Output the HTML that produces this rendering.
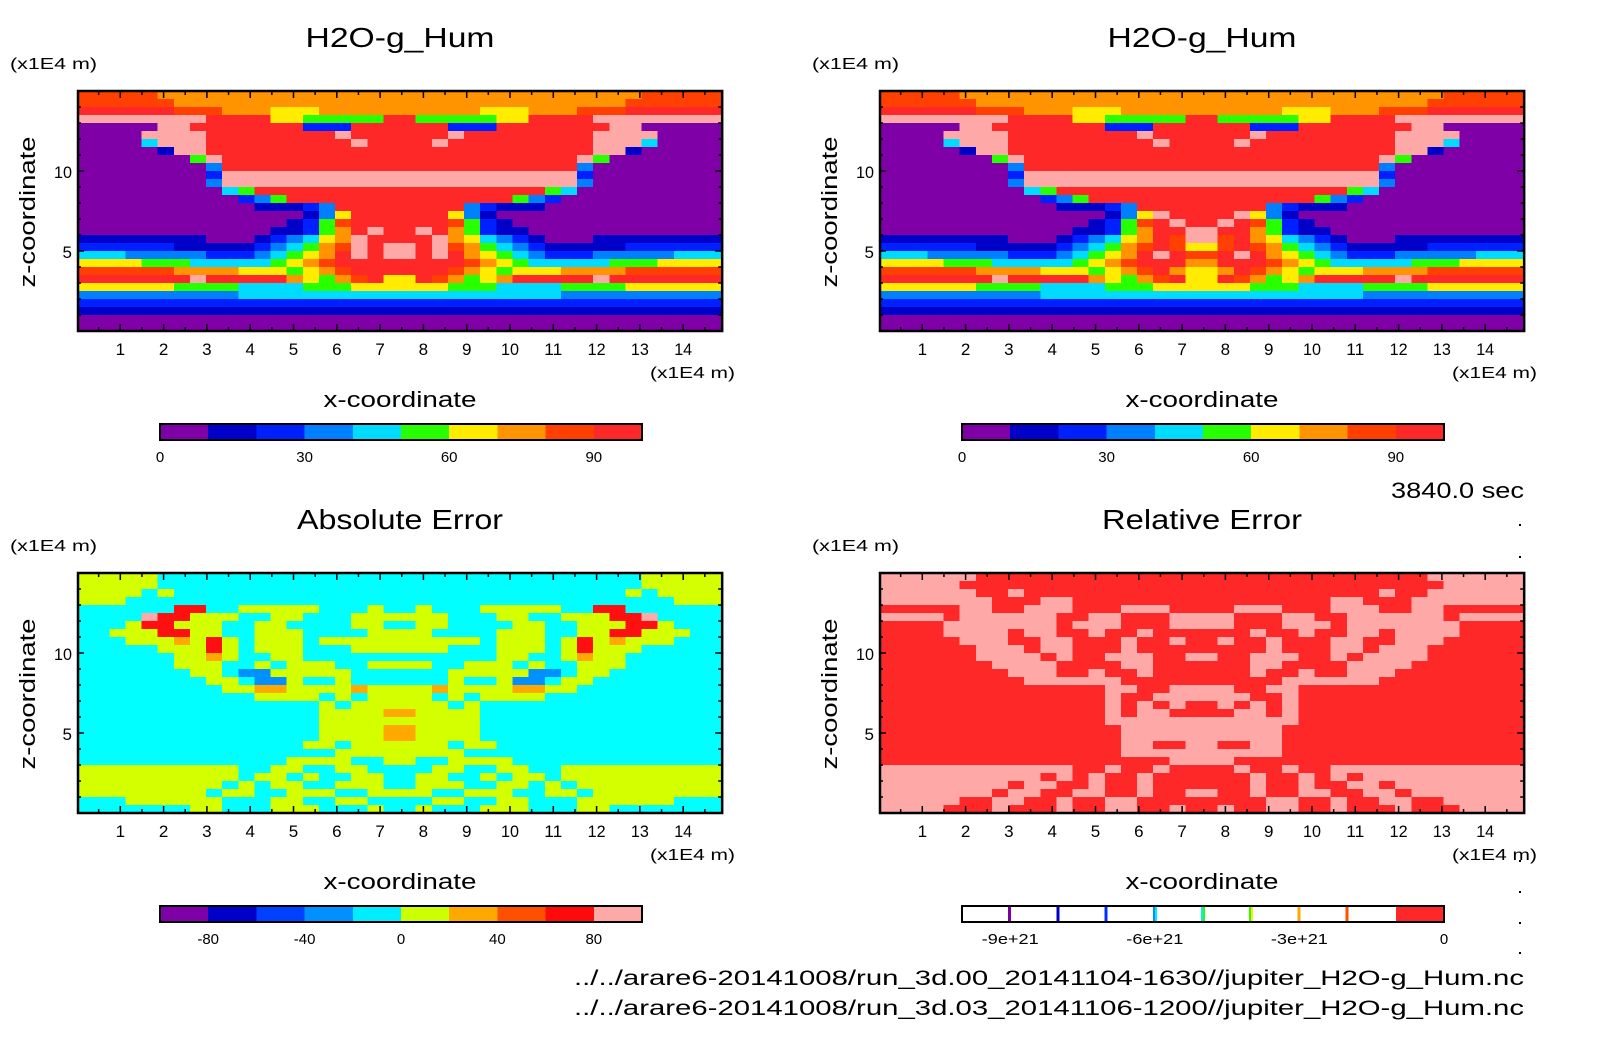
<!DOCTYPE html>
<html><head><meta charset="utf-8">
<style>
html,body{margin:0;padding:0;background:#fff;}
svg{display:block;}
text{font-family:"Liberation Sans",sans-serif;fill:#000;}
</style></head>
<body>
<svg id="fig" xmlns="http://www.w3.org/2000/svg" width="1604" height="1054" viewBox="0 0 1604 1054">
<rect x="0" y="0" width="1604" height="1054" fill="#fff"/>
<g id="layer"></g>
<text x="1524" y="498" text-anchor="end" font-size="22" textLength="133" lengthAdjust="spacingAndGlyphs">3840.0 sec</text>
<text x="1524" y="985" text-anchor="end" font-size="21" textLength="950" lengthAdjust="spacingAndGlyphs">../../arare6-20141008/run_3d.00_20141104-1630//jupiter_H2O-g_Hum.nc</text>
<text x="1524" y="1015" text-anchor="end" font-size="21" textLength="950" lengthAdjust="spacingAndGlyphs">../../arare6-20141008/run_3d.03_20141106-1200//jupiter_H2O-g_Hum.nc</text>
<g>
<rect x="1519" y="524" width="2" height="2" fill="#000"/><rect x="1519" y="556" width="2" height="2" fill="#000"/>
<rect x="1519" y="860" width="2" height="2" fill="#000"/><rect x="1519" y="891" width="2" height="2" fill="#000"/>
<rect x="1519" y="922" width="2" height="2" fill="#000"/><rect x="1519" y="952" width="2" height="2" fill="#000"/>
</g>
</svg>
<script>
// ---- data: left halves of each field row (top row first), level codes ----
const humLevels = ["0","10","20","30","40","50","60","70","80","90"];
const humTicks = ["0","30","60","90"];
const humTickFrac = [0,0.3,0.6,0.9];
const absTicks = ["-80","-40","0","40","80"];
const absTickFrac = [0.1,0.3,0.5,0.7,0.9];
const relTicks = ["-9e+21","-6e+21","-3e+21","0"];
const relTickFrac = [0.1,0.4,0.7,1.0];
const xTicks = [1,2,3,4,5,6,7,8,9,10,11,12,13,14];
const yTicks = [5,10];

const humA = [
"88888777777777777777","88888877777777777777","99999988877766677777","AAAAAAAA999966555559",
"00000AA9999999222999","0000AAAA99999999A999","00004AAA999999999A99","000001AA999999999999",
"00000005A99999999999","000000003999999999999".slice(0,20),"000000002AAAAAAAAAAA","000000003AAAAAAAAAAA",
"00000000045999999999","00000000002359999999","00000000000111239999","00000000000000136999",
"00000000000001258999","000000000000112579A9","11111111000123467A99","22222211111234578A9A",
"44433333222345679A9A","66665554444456789999","88888877776665678999","9999999A999997657896",
"66666655554444555666","33333333334444444444","22222222222222222222","11111111111111111111",
"00000000000000000000","00000000000000000000"];
const humB = [
"88888777777777777777","88888877777777777777","99999988877766677777","AAAAAAAA999966555559",
"00000AA9999999222999","0000AAAA99999999A999","00004AAA999999999A99","000001AA999999999999",
"00000005A99999999999","00000000399999999999","000000002AAAAAAAAAAA","000000003AAAAAAAAAAA",
"00000000045999999999","00000000002359999999","00000000000111239999","00000000000000136A99",
"000000000000012589A9","0000000000001125799A","1111111100012346798A","22222211111234578986",
"44433333222345679A98","66665554444456789997","88888877776665678976","9999999A999997657896",
"66666655554444555666","33333333334444444444","22222222222222222222","11111111111111111111",
"00000000000000000000","00000000000000000000"];
const absField = [
"yyyyyccccccccccccccc","yyyyyccccccccccccccc","yyyycycccccccccccccc","yyyccccccccccccccccc",
"ccccccrrccyyyyycccyc","ccccprryyyccyycccyyy","cccyrryyyccyyccccyyc","ccyyyrryyccyyyccccyy",
"cccyyyoyrycyyycyyyyy","cccccyyyrycyyycccyyy","ccccccyyoyccyycccccc","ccccccyyyccycyyyccyy",
"cccccccyycbbyyyyyccc","ccccccccyycbbyccyccc","cccccccccyyooyyyyoyy","cccccccccccyyyycycyy",
"cccccccccccccccycyyy","cccccccccccccccyyyyo","cccccccccccccccyyyyy","cccccccccccccccyyyyo",
"cccccccccccccccyyyyo","ccccccccccccccyycyyy","ccccccccccccccccyyyy","cccccccccccccyyyyccy",
"yyyyyyyyyyccyyccyycc","yyyyyyyyyycyycyccyyc","yyyyyyyyycycyyccyyyc","yyyyyyyycyyccyyyccyy",
"cccyyyyyycccyyccyycc","cccccccyycccyyycccyc"];
const relField = [
"PPPPPPRRRRRRRRRRRRRR","PPPPPRRRRRRRRRRRRRRR","PPPPPPRRPRRRRRRRRRRR","PPPPPPPRRRPPRRRRRRRR",
"RRRRRPPRRPPPRRRPPPRR","PPPPRPPPPPPRRPPRRRPP","RRRRPPPPPPPRPPPRRRPP","RRRRPPPPRPPRRPRRPRRR",
"RRRRRPPPRRPPRRRPRRPR","RRRRRRPPPRPPRRRPRRRR","RRRRRRPPPPRPRRPPPRRP","RRRRRRRPPPPRRRRPPRRR",
"RRRRRRRRPPPRRPRRPRRR","RRRRRRRRRPPPPPPRRRRR","RRRRRRRRRRRRRRPPRRPP","RRRRRRRRRRRRRRPRRPPP",
"RRRRRRRRRRRRRRPRPRPR","RRRRRRRRRRRRRRPRPPRR","RRRRRRRRRRRRRRPPPPPP","RRRRRRRRRRRRRRRPPPPP",
"RRRRRRRRRRRRRRRPPPPP","RRRRRRRRRRRRRRRPPRRP","RRRRRRRRRRRRRRRPPPPP","RRRRRRRRRRRRRRRRRRPP",
"PPPPPPPPPPPPRRPRRPRR","PPPPPPPPPPRPRPRRPRRR","PPPPPPPPRPPRRPRRPRRR","PPPPPPPRPPRRPPRRPRRP",
"PPPPPRRPPRRPRRPPRRRR","PPPPRRRPRRRPRRPPRRPR"];

const humColors = {"0":"#8000a8","1":"#0000c8","2":"#0020ff","3":"#0080ff","4":"#00dcff","5":"#28ff00","6":"#ffec00","7":"#ff9400","8":"#ff4000","9":"#ff2828","A":"#ffa8a8"};
const humBar = ["#8000a8","#0000c8","#0020ff","#0080ff","#00dcff","#28ff00","#ffec00","#ff9400","#ff4000","#ff2828"];
const absColors = {"c":"#00ffff","y":"#d4ff00","o":"#ffa800","r":"#ff1010","p":"#ffa8a8","b":"#0090ff"};
const absBar = ["#8000a8","#0000c8","#0040ff","#0090ff","#00ecff","#ccff00","#ffa800","#ff5000","#ff0a0a","#ffa8a8"];
const relColors = {"R":"#ff2828","P":"#ffa8a8"};
const relLines = [["#8000a8"],["#0000c8"],["#0030ff"],["#0090ff","#00ecff"],["#00ecff","#28ff00"],["#28ff00","#ffec00"],["#ffa800"],["#ff5000"]];

// ---- geometry ----
const NS = "http://www.w3.org/2000/svg";
const layer = document.getElementById('layer');
const X0 = 77, XS = 43.3, XMAX = 14.9, Y0 = 331, YS = 16, YMAX = 15;
function xs(v){return X0 + XS*v;}
function ys(v){return Y0 - YS*v;}
function mk(tag, attrs, parent){const e=document.createElementNS(NS,tag);for(const k in attrs)e.setAttribute(k,attrs[k]);(parent||layer).appendChild(e);return e;}
function txt(parent, x, y, s, size, anchor, len){const t=mk('text',{x:x,y:y,'font-size':size,'text-anchor':anchor||'middle'},parent);if(len){t.setAttribute('textLength',len);t.setAttribute('lengthAdjust','spacingAndGlyphs');}t.textContent=s;return t;}
function full(h){return h + h.split('').reverse().join('');}

function panel(ox, oy, title, titleLen, rows, colors, name){
  const g = mk('g',{transform:'translate('+ox+','+oy+')'});
  
  
  const t = txt(g, 400, 47, title, 28, 'middle', titleLen);
  
  
  const yu = txt(g, 10, 69, '(x1E4 m)', 16, 'start', 87);
  
  
  const field = mk('g',{'shape-rendering':'crispEdges'}, g);
  
  
  const nr = rows.length;
  rows.forEach((half, r) => {
    const s = full(half); const nc = s.length;
    let c = 0;
    while (c < nc) {
      let e = c; while (e < nc && s[e] === s[c]) e++;
      const xa = xs(c*XMAX/nc), xb = xs(e*XMAX/nc);
      const ya = ys(YMAX - r*YMAX/nr), yb = ys(YMAX - (r+1)*YMAX/nr);
      const rc = mk('rect',{x:xa.toFixed(2),y:ya.toFixed(2),width:(xb-xa+0.6).toFixed(2),height:(yb-ya+0.6).toFixed(2),fill:colors[s[c]]}, field);
      
      
      c = e;
    }
  });
  const fr = mk('rect',{x:xs(0)+1,y:ys(YMAX),width:xs(XMAX)-xs(0)-1,height:ys(0)-ys(YMAX),fill:'none',stroke:'#000','stroke-width':2.5}, g);
  
  
  // ticks
  const tk = mk('g',{stroke:'#000','stroke-width':1.5}, g);
  
  
  for (let v=0.5; v<XMAX; v+=0.5){
    const L = (Math.abs(v-Math.round(v))<1e-6)?7:4;
    mk('line',{x1:xs(v),x2:xs(v),y1:ys(0),y2:ys(0)-L}, tk);
    mk('line',{x1:xs(v),x2:xs(v),y1:ys(YMAX),y2:ys(YMAX)+L}, tk);
  }
  for (let v=1; v<YMAX; v+=1){
    const L = (v%5===0)?7:4;
    mk('line',{x1:xs(0),x2:xs(0)+L,y1:ys(v),y2:ys(v)}, tk);
    mk('line',{x1:xs(XMAX),x2:xs(XMAX)-L,y1:ys(v),y2:ys(v)}, tk);
  }
  xTicks.forEach(v => {
    const l = txt(g, xs(v), 355, String(v), 17, 'middle', v>=10?18:null);
    
    
  });
  yTicks.forEach(v => {
    const l = txt(g, 72, ys(v)+7, String(v), 17, 'end', v>=10?18:null);
    
    
  });
  const xu = txt(g, 735, 378, '(x1E4 m)', 16, 'end', 85);
  
  
  const xt = txt(g, 400, 407, 'x-coordinate', 22, 'middle', 153);
  
  
  const yt = txt(g, 0, 0, 'z-coordinate', 22, 'middle', 151);
  yt.setAttribute('transform', 'translate(35,212) rotate(-90)');
  
  
  return g;
}

const CB_X = 160, CB_W = 482, CB_Y = 424, CB_H = 16;
function colorbar(g, segs, ticks, fracs, kind){
  const cb = mk('g',{'shape-rendering':'crispEdges'}, g);
  
  
  const n = 10;
  for (let i=0;i<n;i++){
    let fill = '#fff';
    if (kind==='rel') { if (i===n-1) fill = '#ff2828'; }
    else fill = segs[i];
    const s = mk('rect',{x:CB_X+CB_W*i/n,y:CB_Y,width:CB_W/n+0.5,height:CB_H,fill:fill}, cb);
    
    
  }
  if (kind==='rel') {
    segs.forEach((cols, i) => {
      const xm = CB_X + CB_W*(i+1)/n;
      cols.forEach((c, j) => {
        const l = mk('rect',{x:xm-2+j*2,y:CB_Y,width:cols.length>1?2:3,height:CB_H,fill:c}, cb);
        
        
      });
    });
  }
  mk('rect',{x:CB_X,y:CB_Y,width:CB_W,height:CB_H,fill:'none',stroke:'#000','stroke-width':2}, cb);
  ticks.forEach((t,i) => {
    const l = txt(g, CB_X + CB_W*fracs[i], 462, t, 15, 'middle', t.length>3?t.length*9.5:null);
    
    
  });
}

const p1 = panel(0, 0, 'H2O-g_Hum', 189, humA, humColors, 'panel-h2o-run00');
colorbar(p1, humBar, humTicks, humTickFrac, 'seq');
const p2 = panel(802, 0, 'H2O-g_Hum', 189, humB, humColors, 'panel-h2o-run03');
colorbar(p2, humBar, humTicks, humTickFrac, 'seq');
const p3 = panel(0, 482, 'Absolute Error', 206, absField, absColors, 'panel-absolute-error');
colorbar(p3, absBar, absTicks, absTickFrac, 'seq');
const p4 = panel(802, 482, 'Relative Error', 200, relField, relColors, 'panel-relative-error');
colorbar(p4, relLines, relTicks, relTickFrac, 'rel');
</script>
</body></html>
